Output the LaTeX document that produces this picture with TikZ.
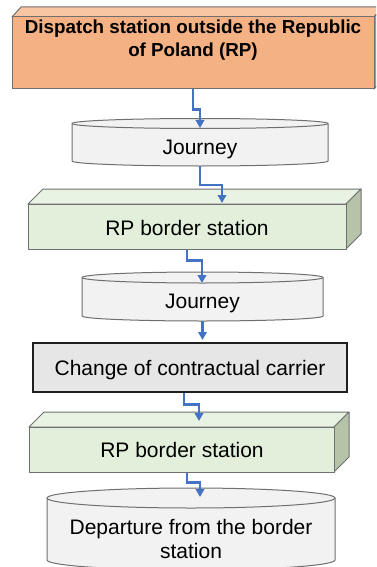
\documentclass[tikz,border=0pt]{standalone}
\usepackage{fontspec}
\setmainfont{Liberation Sans}
\usetikzlibrary{arrows.meta}
\definecolor{dispfront}{HTML}{F4B183}
\definecolor{disptop}{HTML}{F8C6A3}
\definecolor{dispside}{HTML}{C98E66}
\definecolor{grfront}{HTML}{E2EFDA}
\definecolor{grtop}{HTML}{E9F3E3}
\definecolor{grside}{HTML}{B5C3A9}
\definecolor{cylfill}{HTML}{F2F2F2}
\definecolor{chfill}{HTML}{E7E6E6}
\definecolor{edge}{HTML}{6F6F6F}
\definecolor{connblue}{HTML}{4472C4}
\begin{document}
\begin{tikzpicture}[x=1pt,y=-1pt,
  face/.style={draw=edge, line width=1pt, line join=round},
  frontbox/.style={face, rectangle, inner sep=0pt},
  cylshape/.style={draw=edge, line width=1pt, fill=cylfill},
  cylnode/.style={rectangle, inner sep=0pt},
  label/.style={font=\fontsize{21pt}{24pt}\selectfont, inner sep=0pt, anchor=base, text=black},
  boldlabel/.style={font=\fontsize{18.8pt}{23pt}\bfseries\selectfont, inner sep=0pt, align=center, text=black},
  conn/.style={draw=connblue, line width=2.5pt, -{Triangle[length=8pt,width=8.5pt]}}]
\useasboundingbox (0,0) rectangle (376,567);
\fill[white] (0,0) rectangle (376,567);
\clip (0,0) rectangle (376,567);

% Dispatch box
\path[face, fill=disptop] (12,17) -- (21,7) -- (383,7) -- (374,17) -- cycle;
\path[face, fill=dispside] (374,17) -- (383,7) -- (383,79) -- (374,89) -- cycle;
\node[frontbox, fill=dispfront, minimum width=362pt, minimum height=72pt] (disp) at (193,53) {};
\node[boldlabel] (dispt) at (193,40.6) {Dispatch station outside the Republic\\of Poland (RP)};

% Journey 1
\node[cylnode, minimum width=256pt, minimum height=47.5pt] (j1) at (200,142.25) {};
\path[cylshape] (72,123.5) -- (72,161) arc[start angle=180, end angle=360, x radius=128pt, y radius=5pt]
  -- (328,123.5) arc[start angle=0, end angle=180, x radius=128pt, y radius=5pt] -- cycle;
\draw[draw=edge, line width=1pt] (72,123.5) arc[start angle=180, end angle=360, x radius=128pt, y radius=5pt];
\node[label] (j1t) at (200,154) {Journey};

% RP border station 1
\path[face, fill=grtop] (28,204) -- (43,189) -- (361,189) -- (346,204) -- cycle;
\path[face, fill=grside] (346,204) -- (361,189) -- (361,234) -- (346,249) -- cycle;
\node[frontbox, fill=grfront, minimum width=318pt, minimum height=45pt] (g1) at (187,226.5) {};
\node[label] (g1t) at (187,235) {RP border station};

% Journey 2
\node[cylnode, minimum width=241pt, minimum height=49pt] (j2) at (202.5,296.5) {};
\path[cylshape] (82,277.5) -- (82,316) arc[start angle=180, end angle=360, x radius=120.5pt, y radius=5pt]
  -- (323,277.5) arc[start angle=0, end angle=180, x radius=120.5pt, y radius=5.5pt] -- cycle;
\draw[draw=edge, line width=1pt] (82,277.5) arc[start angle=180, end angle=360, x radius=120.5pt, y radius=5.5pt];
\node[label] (j2t) at (202.5,308) {Journey};

% Change of contractual carrier
\node[rectangle, inner sep=0pt, draw=black!88, line width=2.5pt, fill=chfill,
  minimum width=314pt, minimum height=49pt] (ch) at (190,367.5) {};
\node[label] (cht) at (190,375) {Change of contractual carrier};

% RP border station 2
\path[face, fill=grtop] (29,427) -- (44,412) -- (349,412) -- (334,427) -- cycle;
\path[face, fill=grside] (334,427) -- (349,412) -- (349,457) -- (334,472) -- cycle;
\node[frontbox, fill=grfront, minimum width=305pt, minimum height=45pt] (g2) at (181.5,449.5) {};
\node[label] (g2t) at (182,457) {RP border station};

% Departure cylinder
\node[cylnode, minimum width=288pt, minimum height=82pt] (dep) at (191,529) {};
\path[cylshape] (47,498) -- (47,560) arc[start angle=180, end angle=360, x radius=144pt, y radius=10pt]
  -- (335,498) arc[start angle=0, end angle=180, x radius=144pt, y radius=10pt] -- cycle;
\draw[draw=edge, line width=1pt] (47,498) arc[start angle=180, end angle=360, x radius=144pt, y radius=10pt];
\node[label] (dept1) at (191,534) {Departure from the border};
\node[label] (dept2) at (191,558) {station};

% connector end points
\coordinate (a1e) at (200,128);
\coordinate (a2e) at (222,203);
\coordinate (a3e) at (202,283);
\coordinate (a4e) at (202.5,340);
\coordinate (a5e) at (199,421);
\coordinate (a6e) at (200,497);

\draw[conn] (disp.south) -- ++(0,20) -| (a1e);
\draw[conn] (j1.south) -- ++(0,19) -| (a2e);
\draw[conn] (g1.south) -- ++(0,11) -| (a3e);
\draw[conn] (j2.south) -- (a4e);
\draw[conn] ([xshift=-6pt]ch.south) -- ++(0,11) -| (a5e);
\draw[conn] ([xshift=5.5pt]g2.south) -- ++(0,10) -| (a6e);
\end{tikzpicture}
\end{document}
